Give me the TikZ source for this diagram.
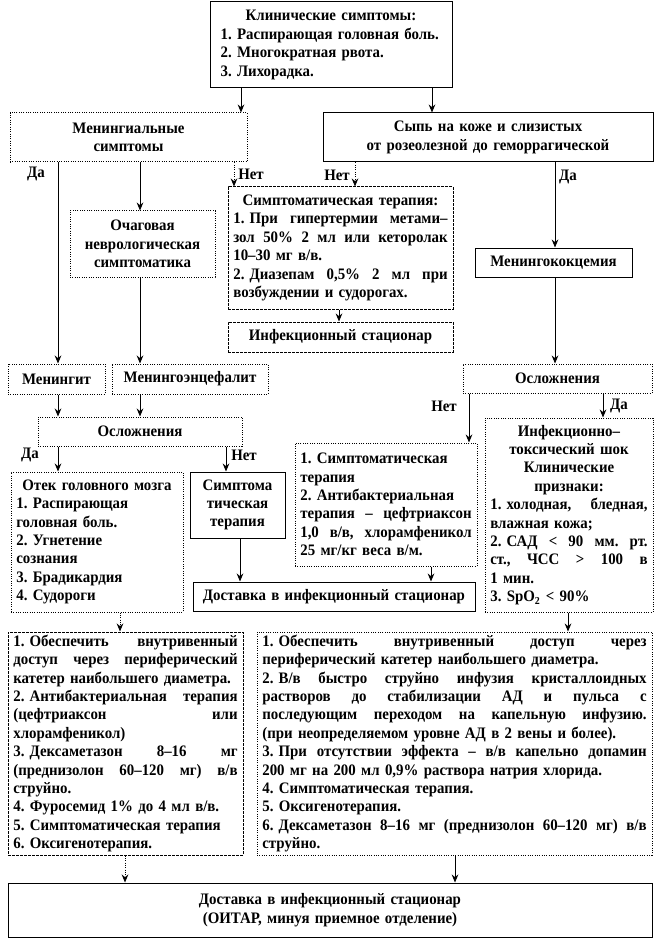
\documentclass[tikz,border=0pt]{standalone}
\usepackage{fontspec}
\setmainfont{Liberation Serif}[FakeStretch=0.93]
\usetikzlibrary{arrows.meta}
\newcommand\fs{\fontsize{12}{13.8}\selectfont\bfseries\frenchspacing}
\newcommand\jline[1]{\leavevmode\hbox to \bxtw pt{\spaceskip=0.25em plus 1fil\relax #1}}
\newcommand\lline[1]{\makebox[\bxtw pt][l]{#1}}
\newcommand\nmb[1]{#1.\hspace{0.32em}}
\newcommand\mkbox[7]{%
 \pgfmathsetmacro\bxw{(#5-#3)*0.75}%
 \pgfmathsetmacro\bxh{(#6-#4)*0.75}%
 \pgfmathsetmacro\bxtw{(#5-#3)*0.75-8}%
 \pgfmathsetmacro\bxcx{(#3+#5)/2}%
 \pgfmathsetmacro\bxcy{(#4+#6)/2}%
 \node[#1, minimum width=\bxw pt, minimum height=\bxh pt, text width=\bxtw pt] (#2) at (\bxcx,\bxcy) {#7};}
\begin{document}
\begin{tikzpicture}[x=0.75pt,y=-0.75pt,
 bx/.style={draw, line width=0.75pt, inner xsep=4pt, inner ysep=1pt, font=\fs, align=center},
 dotbox/.style={bx, densely dotted},
 dashbox/.style={bx, dash pattern=on 2pt off 1pt},
 arr/.style={-{Stealth[length=6pt,width=5pt]}, line width=0.75pt},
 darr/.style={arr, densely dotted},
 lbl/.style={font=\fs, inner sep=0pt}]
\useasboundingbox (0,0) rectangle (656,941);

\mkbox{bx}{top}{210}{2}{452}{88}{Клинические симптомы:\\\lline{\hspace*{4pt}1. Распирающая головная боль.}\\\lline{\hspace*{4pt}2. Многократная рвота.}\\\lline{\hspace*{4pt}3. Лихорадка.}}
\mkbox{dotbox}{men}{10}{113}{247}{162}{Менингиальные\\симптомы}
\mkbox{bx}{rash}{323}{113}{653}{162}{Сыпь на коже и слизистых\\от розеолезной до геморрагической}
\mkbox{dashbox}{symp}{228}{187}{453}{309}{Симптоматическая терапия:\\\jline{\nmb{1}При гипертермии метами–}\\\jline{зол 50\% 2 мл или кеторолак}\\\lline{10–30 мг в/в.}\\\jline{\nmb{2}Диазепам 0,5\% 2 мл при}\\\lline{возбуждении и судорогах.}}
\mkbox{dotbox}{ochag}{70}{211}{215}{277}{Очаговая\\неврологическая\\симптоматика}
\mkbox{bx}{mkc}{475}{248}{632}{277}{Менингококцемия}
\mkbox{dashbox}{stat}{228}{322}{453}{352}{Инфекционный стационар}
\mkbox{dotbox}{mgt}{8}{364}{105}{394}{Менингит}
\mkbox{dotbox}{mge}{112}{364}{268}{394}{Менингоэнцефалит}
\mkbox{dotbox}{oslR}{463}{364}{652}{393}{Осложнения}
\mkbox{dotbox}{oslL}{38}{417}{242}{446}{Осложнения}
\mkbox{dotbox}{itsh}{485}{418}{653}{612}{Инфекционно–\\токсический шок\\Клинические\\признаки:\\\jline{\nmb{1}холодная, бледная,}\\\lline{влажная кожа;}\\\jline{\nmb{2}САД < 90 мм. рт.}\\\jline{ст., ЧСС > 100 в}\\\lline{1 мин.}\\\lline{3. SpO\textsubscript{2} < 90\%}}
\mkbox{dotbox}{symB}{295}{443}{477}{566}{\lline{1. Симптоматическая}\\\lline{терапия}\\\lline{2. Антибактериальная}\\\jline{терапия – цефтриаксон}\\\jline{1,0 в/в, хлорамфеникол}\\\lline{25 мг/кг веса в/м.}}
\mkbox{dotbox}{otek}{11}{472}{183}{612}{Отек головного мозга\\\lline{1. Распирающая}\\\lline{головная боль.}\\\lline{2. Угнетение}\\\lline{сознания}\\\lline{3. Брадикардия}\\\lline{4. Судороги}}
\mkbox{bx}{symA}{190}{472}{285}{538}{Симптома\\тическая\\терапия}
\mkbox{bx}{dost}{193}{582}{475}{611}{Доставка в инфекционный стационар}
\mkbox{dashbox}{lowL}{8}{632}{243}{855}{\jline{\nmb{1}Обеспечить внутривенный}\\\jline{доступ через периферический}\\\lline{катетер наибольшего диаметра.}\\\jline{\nmb{2}Антибактериальная терапия}\\\jline{(цефтриаксон или}\\\lline{хлорамфеникол)}\\\jline{\nmb{3}Дексаметазон 8–16 мг}\\\jline{(преднизолон 60–120 мг) в/в}\\\lline{струйно.}\\\lline{4. Фуросемид 1\% до 4 мл в/в.}\\\lline{5. Симптоматическая терапия}\\\lline{6. Оксигенотерапия.}}
\mkbox{dotbox}{lowR}{257}{632}{652}{855}{\jline{\nmb{1}Обеспечить внутривенный доступ через}\\\lline{периферический катетер наибольшего диаметра.}\\\jline{\nmb{2}В/в быстро струйно инфузия кристаллоидных}\\\jline{растворов до стабилизации АД и пульса с}\\\jline{последующим переходом на капельную инфузию.}\\\lline{(при неопределяемом уровне АД в 2 вены и более).}\\\jline{\nmb{3}При отсутствии эффекта – в/в капельно допамин}\\\lline{200 мг на 200 мл 0,9\% раствора натрия хлорида.}\\\lline{4. Симптоматическая терапия.}\\\lline{5. Оксигенотерапия.}\\\jline{\nmb{6}Дексаметазон 8–16 мг (преднизолон 60–120 мг) в/в}\\\lline{струйно.}}
\mkbox{bx}{fin}{8}{883}{652}{937}{Доставка в инфекционный стационар\\(ОИТАР, минуя приемное отделение)}

% labels
\node[lbl] (l1) at (36,174) {Да};
\node[lbl] (l2) at (251,174) {Нет};
\node[lbl] (l3) at (337,175) {Нет};
\node[lbl] (l4) at (568,177) {Да};
\node[lbl] (l5) at (30,455) {Да};
\node[lbl] (l6) at (244,455) {Нет};
\node[lbl] (l7) at (444,406) {Нет};
\node[lbl] (l8) at (619,406) {Да};

% connectors
\draw[arr] (top.south -| 241,0) -- (men.north -| 241,0);
\draw[arr] (top.south -| 432,0) -- (rash.north -| 432,0);
\draw[arr] (men.south -| 58,0) -- (mgt.north -| 58,0);
\draw[arr] (men.south -| 140,0) -- (ochag.north -| 140,0);
\draw[darr] (men.south -| 234,0) -- (symp.north -| 234,0);
\draw[darr] (rash.south -| 355,0) -- (symp.north -| 355,0);
\draw[arr] (rash.south -| 555,0) -- (mkc.north -| 555,0);
\draw[arr] (symp.south -| 339,0) -- (stat.north -| 339,0);
\draw[arr] (ochag.south -| 140,0) -- (mge.north -| 140,0);
\draw[arr] (mkc.south -| 555,0) -- (oslR.north -| 555,0);
\draw[arr] (mgt.south -| 58,0) -- (oslL.north -| 58,0);
\draw[arr] (mge.south -| 140,0) -- (oslL.north -| 140,0);
\draw[arr] (oslL.south -| 58,0) -- (otek.north -| 58,0);
\draw[arr] (oslL.south -| 226,0) -- (symA.north -| 226,0);
\draw[arr] (oslR.south -| 469,0) -- (symB.north -| 469,0);
\draw[arr] (oslR.south -| 603,0) -- (itsh.north -| 603,0);
\draw[arr] (symA.south -| 240,0) -- (dost.north -| 240,0);
\draw[arr] (symB.south -| 431,0) -- (dost.north -| 431,0);
\draw[darr] (otek.south -| 120,0) -- (lowL.north -| 120,0);
\draw[arr] (itsh.south -| 568,0) -- (lowR.north -| 568,0);
\draw[darr] (lowL.south -| 125,0) -- (fin.north -| 125,0);
\draw[arr] (lowR.south -| 455,0) -- (fin.north -| 455,0);
\end{tikzpicture}
\end{document}
